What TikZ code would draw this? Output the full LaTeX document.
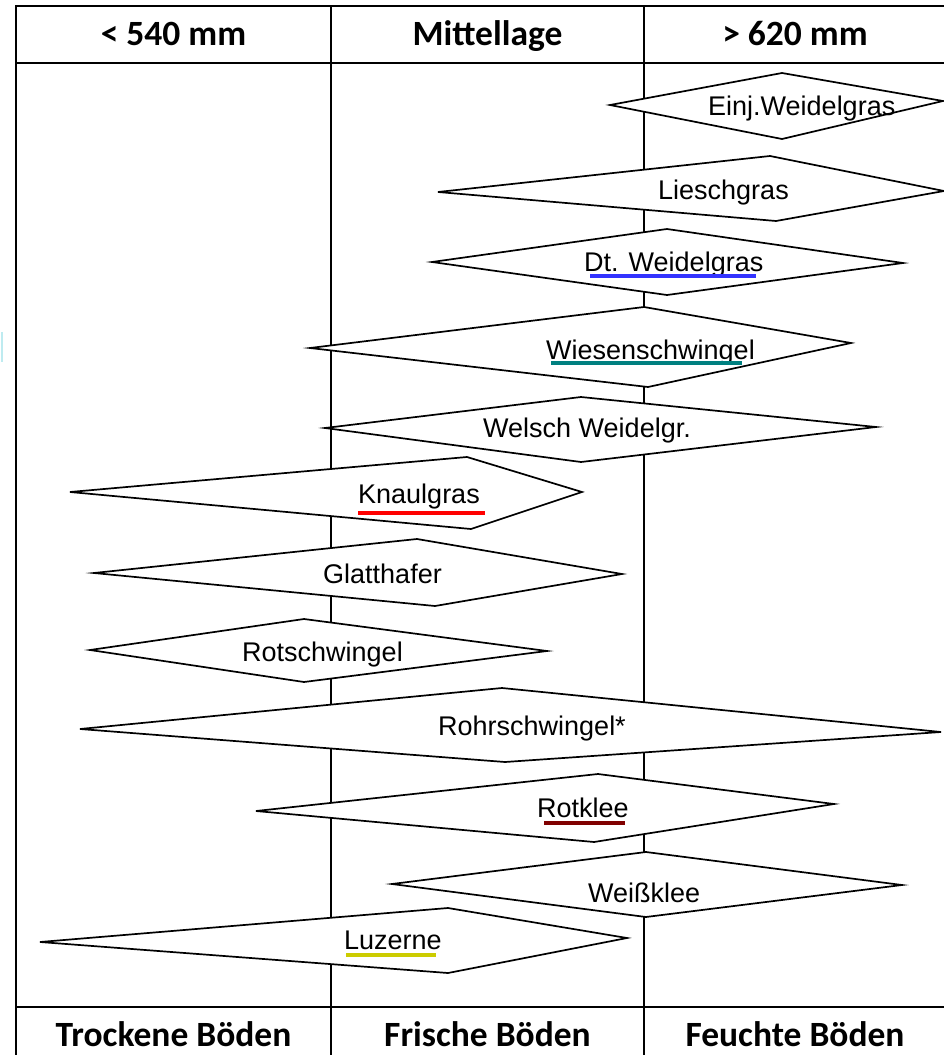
\documentclass[tikz,border=0pt]{standalone}
\usepackage{fontspec}
\setmainfont{Liberation Sans}
\newfontfamily\hdrfont{Carlito}
\definecolor{ulblue}{RGB}{51,51,255}
\definecolor{ulteal}{RGB}{0,128,128}
\definecolor{ulred}{RGB}{255,0,0}
\definecolor{uldred}{RGB}{128,0,0}
\definecolor{ulyellow}{RGB}{204,204,0}
\definecolor{artcyan}{RGB}{190,235,240}
\begin{document}
\begin{tikzpicture}[x=1pt,y=-1pt,
  dia/.style={draw=black,line width=1.7pt,fill=white,line join=miter},
  lbl/.style={font=\fontsize{27}{30}\selectfont,inner sep=0pt,anchor=base west},
  hdr/.style={font=\hdrfont\bfseries\fontsize{35.5}{40}\selectfont,inner sep=0pt,anchor=base},
  framel/.style={line width=2.2pt},
  coll/.style={line width=1.5pt},
  ul/.style={line width=4pt}]
\useasboundingbox (0,0) rectangle (943,1055);
\fill[white] (0,0) rectangle (943,1055);
% artifact
\draw[artcyan,line width=2pt] (1.5,332) -- (1.5,362);
% frame
\draw[framel] (16,1060) -- (16,6) -- (950,6);
\draw[framel] (16,63) -- (950,63);
\draw[framel] (16,1007) -- (950,1007);
\draw[coll] (331,6) -- (331,1060);
\draw[coll] (644,6) -- (644,1060);
% headers
\node[hdr] (h1) at (173.5,45) {< 540 mm};
\node[hdr] (h2) at (487.5,45) {Mittellage};
\node[hdr] (h3) at (795,45) {> 620 mm};
\node[hdr] (f1) at (173.5,1046) {Trockene Böden};
\node[hdr] (f2) at (487.5,1046) {Frische Böden};
\node[hdr] (f3) at (795,1046) {Feuchte Böden};
% diamonds
\draw[dia] (610,105) -- (782,73) -- (943,101) -- (782,139) -- cycle;
\draw[dia] (438,192) -- (770,156) -- (944,191) -- (776,221) -- cycle;
\draw[dia] (432,262) -- (667,229) -- (903,263) -- (667,295) -- cycle;
\draw[dia] (310,348) -- (644,307) -- (851,343) -- (648,387) -- cycle;
\draw[dia] (325,428) -- (581,397) -- (876,427) -- (581,462) -- cycle;
\draw[dia] (70,492) -- (467,457) -- (582,492) -- (471,529) -- cycle;
\draw[dia] (94,573) -- (417,539) -- (622,574) -- (435,606) -- cycle;
\draw[dia] (90,650) -- (304,619) -- (547,651) -- (304,682) -- cycle;
\draw[dia] (80,729) -- (502,688) -- (941,732) -- (505,762) -- cycle;
\draw[dia] (256,811) -- (598,774) -- (834,804) -- (594,842) -- cycle;
\draw[dia] (392,884) -- (646,852) -- (902,885) -- (646,917) -- cycle;
\draw[dia] (40,942) -- (448,908) -- (627,938) -- (448,973) -- cycle;
% labels
\node[lbl] (t1) at (708,115) {Einj.Weidelgras};
\node[lbl] (t2) at (658,199) {Lieschgras};
\node[lbl] (t3) at (584,271) {Dt. Weidelgras};
\node[lbl] (t4) at (546,359) {Wiesenschwingel};
\node[lbl] (t5) at (483,437) {Welsch Weidelgr.};
\node[lbl] (t6) at (358,503) {Knaulgras};
\node[lbl] (t7) at (323,583) {Glatthafer};
\node[lbl] (t8) at (242,661) {Rotschwingel};
\node[lbl] (t9) at (438,735) {Rohrschwingel*};
\node[lbl] (t10) at (537,817) {Rotklee};
\node[lbl] (t11) at (588,902) {Weißklee};
\node[lbl] (t12) at (344,949) {Luzerne};
% underlines
\draw[ul,ulblue] (590,276) -- (756,276);
\draw[ul,ulteal] (551,363) -- (742,363);
\draw[ul,ulred] (358,513) -- (485,513);
\draw[ul,uldred] (544,823) -- (625,823);
\draw[ul,ulyellow] (346,955) -- (436,955);
\end{tikzpicture}
\end{document}
